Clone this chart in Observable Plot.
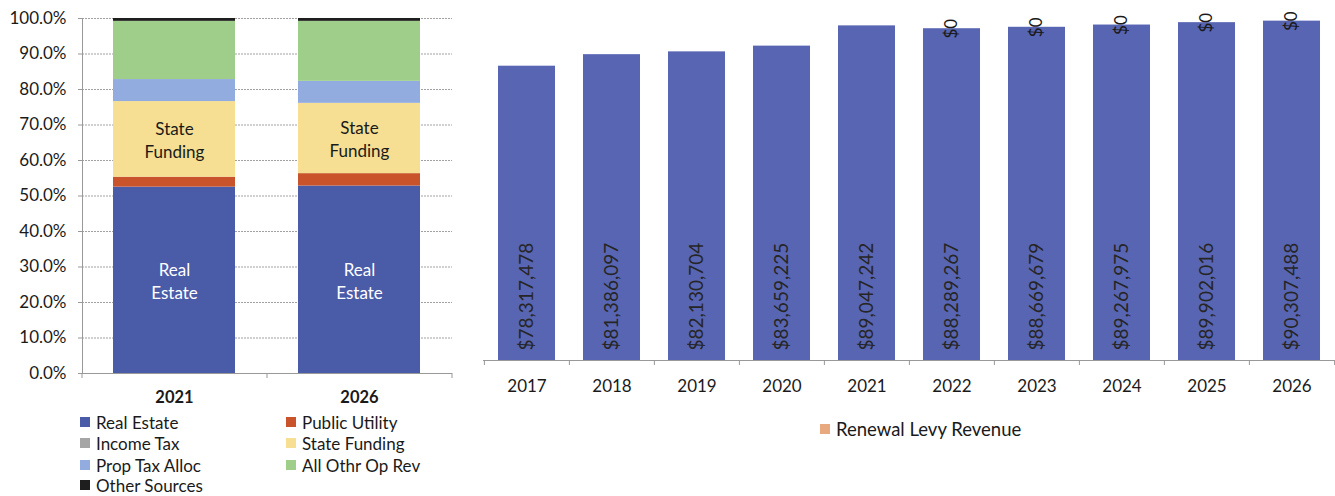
<!DOCTYPE html>
<html>
<head>
<meta charset="utf-8">
<script src="https://cdn.jsdelivr.net/npm/d3@7"></script>
<script src="https://cdn.jsdelivr.net/npm/@observablehq/plot@0.6"></script>
<style>
  html, body { margin: 0; padding: 0; background: #fff; }
  body { width: 1335px; height: 496px; overflow: hidden; font-family: Lato, "Open Sans", sans-serif; color: #1a1a1a; }
  #wrap { position: relative; width: 1335px; height: 496px; }
  #left { position: absolute; left: 0; top: 0; }
  #right { position: absolute; left: 470px; top: 0; }
  .legend { position: absolute; left: 0; top: 0; color: #1a1a1a; }
  .item { position: absolute; white-space: nowrap; display: flex; align-items: center; height: 20px; transform: translateY(-50%); }
  .sw { width: 10px; height: 10px; display: inline-block; margin-right: 6px; }
</style>
</head>
<body>
<div id="wrap">
  <div id="left"></div>
  <div id="right"></div>
  <div id="legL" class="legend" style="font-size:17px"></div>
  <div id="legR" class="legend" style="font-size:18.5px"></div>
</div>
<script>
// ---------- Data ----------
const stackYears = ["2021", "2026"];
const sources = ["Real Estate", "Public Utility", "Income Tax", "State Funding", "Prop Tax Alloc", "All Othr Op Rev", "Other Sources"];
const share2021 = [52.5, 2.8, 0, 21.3, 6.2, 16.4, 0.8];
const share2026 = [52.8, 3.5, 0, 19.8, 6.2, 16.9, 0.8];
const sourceColors = ["#4A5BA8", "#C9532B", "#A5A5A5", "#F6DF92", "#93ACE0", "#9FCD8A", "#1E1E1E"];
const segmentLabels = {"Real Estate": "Real\nEstate", "State Funding": "State\nFunding"};
const percentTicks = [0, 10, 20, 30, 40, 50, 60, 70, 80, 90, 100];

const levyYears = ["2017", "2018", "2019", "2020", "2021", "2022", "2023", "2024", "2025", "2026"];
const levyRevenue = [78317478, 81386097, 82130704, 83659225, 89047242, 88289267, 88669679, 89267975, 89902016, 90307488];
const renewalLevy = [null, null, null, null, null, 0, 0, 0, 0, 0];
const levyColor = "#5865B3";
const renewalColor = "#E9A97F";
const renewalName = "Renewal Levy Revenue";

// ---------- Left: 100% stacked ----------
const shares = [share2021, share2026];
const stackRows = [];
stackYears.forEach((yr, i) => sources.forEach((s, j) => stackRows.push({year: yr, source: s, value: shares[i][j]})));

const L = {width: 460, height: 410, ml: 82, mr: 8, mt: 18, mb: 37};
const lStep = (L.width - L.ml - L.mr) / stackYears.length;
const lPlotH = L.height - L.mt - L.mb;

const left = Plot.plot({
  width: L.width, height: L.height,
  marginLeft: L.ml, marginRight: L.mr, marginTop: L.mt, marginBottom: L.mb,
  style: {fontFamily: "Lato, 'Open Sans', sans-serif", fontSize: "17px", color: "#1a1a1a", background: "transparent"},
  x: {domain: stackYears, paddingInner: 0.34, paddingOuter: 0.17},
  y: {domain: [0, 100]},
  color: {domain: sources, range: sourceColors},
  marks: [
    Plot.gridY(percentTicks, {stroke: "#8a8a8a", strokeOpacity: 0.8, strokeDasharray: "2,1"}),
    Plot.barY(stackRows, {x: "year", y: "value", fill: "source", order: sources}),
    Plot.text(stackRows, Plot.stackY({x: "year", y: "value", z: "source", order: sources,
      text: d => segmentLabels[d.source] || null,
      fill: d => d.source === "Real Estate" ? "#ffffff" : "#1a1a1a",
      fontSize: 17, lineHeight: 1.35})),
    Plot.ruleY([0], {stroke: "#999"}),
    Plot.frame({anchor: "left", stroke: "#999"}),
    Plot.ruleX(stackYears, {dx: -lStep / 2, stroke: "#999", insetTop: lPlotH, insetBottom: -5}),
    Plot.ruleX(stackYears.slice(-1), {dx: lStep / 2, stroke: "#999", insetTop: lPlotH, insetBottom: -5}),
    Plot.axisY(percentTicks, {tickFormat: d => d.toFixed(1) + "%", tickSize: 4, tickPadding: 12, stroke: "#999", fontSize: 17, label: null}),
    Plot.axisX({tickSize: 0, tickPadding: 18, fontWeight: "bold", fontSize: 16.5, label: null})
  ]
});
document.getElementById("left").appendChild(left);

// ---------- Right: levy bars ----------
const levyRows = levyYears.map((yr, i) => ({year: yr, levy: levyRevenue[i], renewal: renewalLevy[i]}));
const R = {width: 865, height: 410, ml: 13, mr: 0, mt: 3, mb: 50};
const rStep = (R.width - R.ml - R.mr) / levyYears.length;
const rPlotH = R.height - R.mt - R.mb;
const money = d3.format("$,.0f");

const right = Plot.plot({
  width: R.width, height: R.height,
  marginLeft: R.ml, marginRight: R.mr, marginTop: R.mt, marginBottom: R.mb,
  style: {fontFamily: "Lato, 'Open Sans', sans-serif", fontSize: "17px", color: "#1a1a1a", background: "transparent"},
  x: {domain: levyYears, paddingInner: 0.33, paddingOuter: 0.165},
  y: {domain: [0, 95e6], axis: null},
  marks: [
    Plot.barY(levyRows, {x: "year", y: "levy", fill: levyColor}),
    Plot.text(levyRows, {x: "year", y: 0, text: d => money(d.levy), rotate: -90, textAnchor: "start", dy: -10, fill: "#262626", fontSize: 19}),
    Plot.text(levyRows.filter(d => d.renewal != null), {x: "year", y: d => d.levy + d.renewal, text: d => money(d.renewal), rotate: -90, textAnchor: "middle", fill: "#1a1a1a", fontSize: 17}),
    Plot.ruleY([0], {stroke: "#999"}),
    Plot.ruleX(levyYears, {dx: -rStep / 2, stroke: "#999", insetTop: rPlotH, insetBottom: -5}),
    Plot.ruleX(levyYears.slice(-1), {dx: rStep / 2, stroke: "#999", insetTop: rPlotH, insetBottom: -5}),
    Plot.axisX({tickSize: 0, tickPadding: 19, fontSize: 17, label: null})
  ]
});
document.getElementById("right").appendChild(right);

// ---------- Legends ----------
const legL = document.getElementById("legL");
const colX = [80, 286];
const rowY = [422, 443, 465, 485];
sources.forEach((s, i) => {
  const el = document.createElement("div");
  el.className = "item";
  el.style.left = colX[i % 2] + "px";
  el.style.top = rowY[Math.floor(i / 2)] + "px";
  el.innerHTML = `<span class="sw" style="background:${sourceColors[i]}"></span><span>${s}</span>`;
  legL.appendChild(el);
});
const legR = document.getElementById("legR");
const el = document.createElement("div");
el.className = "item";
el.style.left = "820px";
el.style.top = "429px";
el.innerHTML = `<span class="sw" style="background:${renewalColor}"></span><span>${renewalName}</span>`;
legR.appendChild(el);
</script>
</body>
</html>
